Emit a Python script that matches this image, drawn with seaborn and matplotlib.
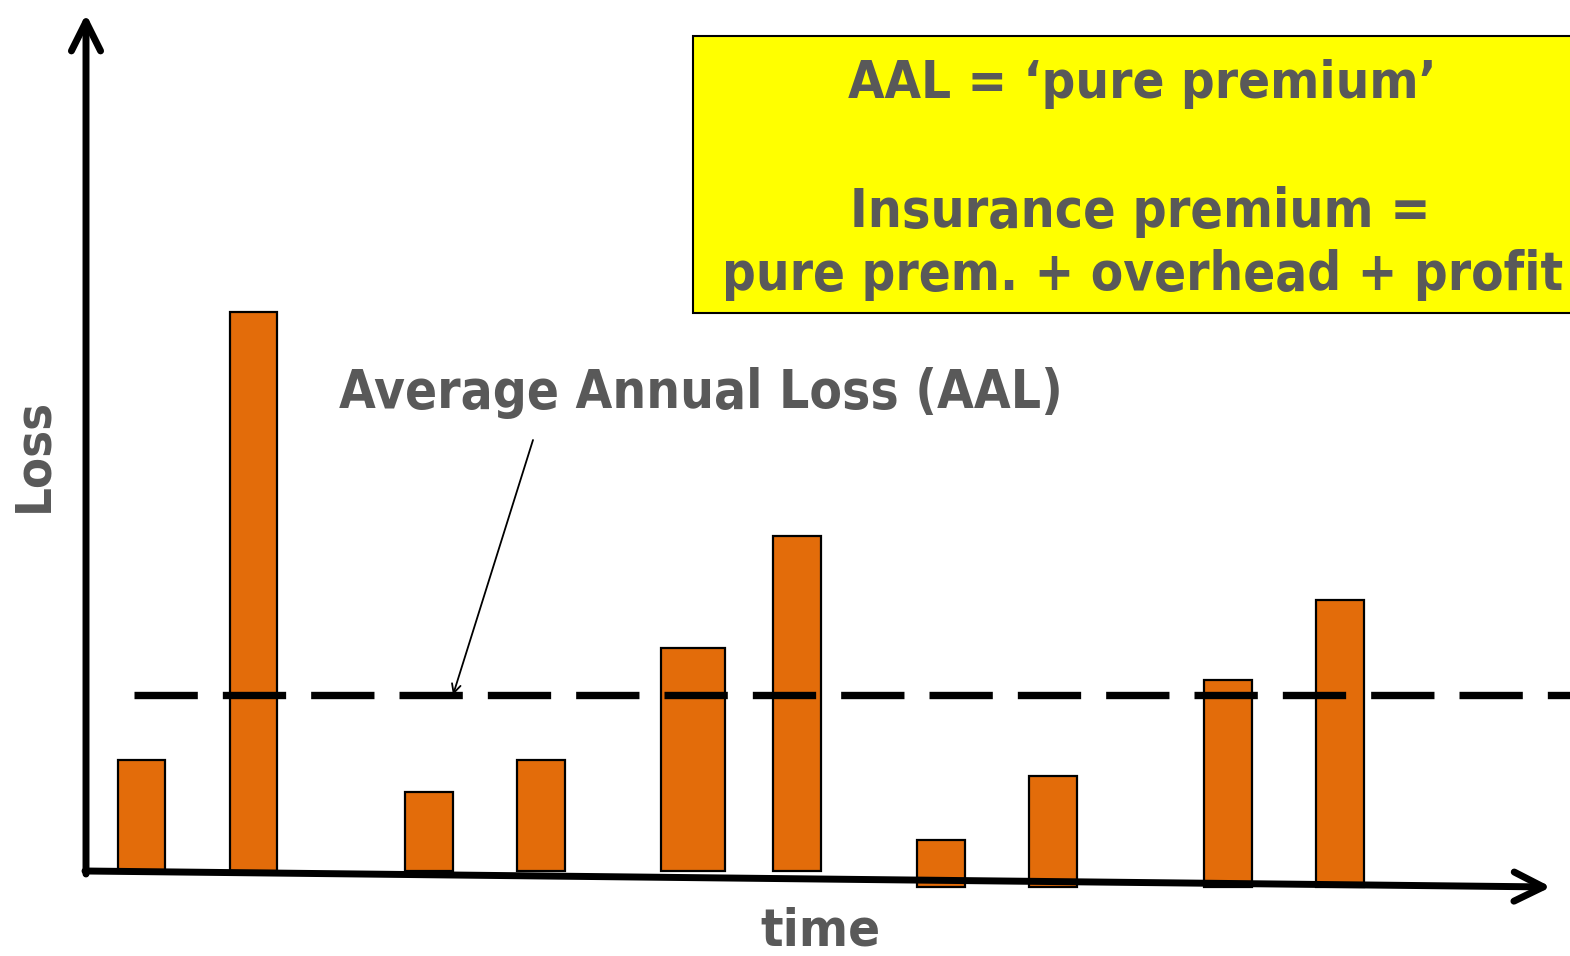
import matplotlib
matplotlib.use("Agg")
import matplotlib.pyplot as plt
from matplotlib import font_manager as fm
from matplotlib.patches import Rectangle, ArrowStyle, FancyArrowPatch
import seaborn as sns

# ---- data -------------------------------------------------------------
event_time = [55.5, 167.5, 343, 455, 607, 711, 855, 967, 1142, 1254]
event_span = [47, 47, 48, 48, 64, 48, 48, 48, 48, 48]
event_loss = [111, 559, 79, 111, 223, 335, 47, 111, 207, 287]
event_base = [0, 0, 0, 0, 0, 0, -16, -16, -16, -16]
aal_value = 176

title_aal = "Average Annual Loss (AAL)"
box_lines = ["AAL = \u2018pure premium\u2019",
             "Insurance premium =",
             "pure prem. + overhead + profit"]
y_label = "Loss"
x_label = "time"

BAR_COLOR = "#E36C0A"
TEXT_COLOR = "#595959"
BOX_COLOR = "#FFFF00"

sns.set_theme(style="white")
plt.rcParams["font.family"] = ["DejaVu Sans"]

W, H = 1570, 956
fig = plt.figure(figsize=(W / 100, H / 100), dpi=100)
fig.patch.set_facecolor("white")


def pick_font(cands):
    for fam, stretch, tag in cands:
        fp = fm.FontProperties(family=fam, weight="bold", stretch=stretch)
        try:
            path = fm.findfont(fp, fallback_to_default=False)
        except Exception:
            continue
        if tag and tag not in path:
            continue
        return fm.FontProperties(fname=path)
    return fm.FontProperties(family="DejaVu Sans", weight="bold")


narrow_font = pick_font([("DejaVu Sans", "condensed", "Condensed"),
                         ("Liberation Sans Narrow", "condensed", "Narrow"),
                         ("DejaVu Sans", "normal", None)])
label_font = pick_font([("DejaVu Sans", "condensed", "Condensed"),
                        ("DejaVu Sans", "normal", None)])

# plotting area: origin at the corner of the two arrows
x0, y0 = 86, 871
ax = fig.add_axes([x0 / W, (H - y0) / H, (W - x0) / W, y0 / H])
ax.set_xlim(0, W - x0)
ax.set_ylim(0, y0)
ax.axis("off")

ax.bar(event_time, event_loss, width=event_span, bottom=event_base,
       color=BAR_COLOR, edgecolor="black", linewidth=1.6, clip_on=False,
       zorder=2)

sns.lineplot(x=[48, W - x0 + 10], y=[aal_value, aal_value], ax=ax,
             color="black", linewidth=5.3, zorder=3)
aal_line = ax.lines[-1]
aal_line.set_dashes((8.6, 3.4))
aal_line.set_dash_capstyle("butt")
aal_line.set_clip_on(False)

# annotation arrow from the label down to the AAL line
ax.annotate("", xy=(367, aal_value), xytext=(447, 431),
            arrowprops=dict(arrowstyle="->", lw=1.3, color="black",
                            shrinkA=0, shrinkB=0, mutation_scale=16),
            zorder=4)

# axes drawn as arrows (figure pixels, origin bottom-left)
axis_style = ArrowStyle("->", head_length=21, head_width=10.5)
for start, end in [((86, H - 874), (86, H - 14)),
                   ((85, H - 871), (1551, H - 887))]:
    fig.add_artist(FancyArrowPatch(
        posA=start, posB=end, transform=None, arrowstyle=axis_style,
        mutation_scale=1, lw=5.0, color="black", capstyle="round",
        joinstyle="round", shrinkA=0, shrinkB=0, zorder=5))

# yellow box
fig.add_artist(Rectangle((693 / W, (H - 313) / H), (W + 10 - 693) / W,
                         277 / H, transform=fig.transFigure,
                         facecolor=BOX_COLOR, edgecolor="black", lw=1.5,
                         clip_on=False, zorder=1))

texts = []


def put(s, x, y, width, font, rot=0, ha="center", va="baseline"):
    t = fig.text(x / W, (H - y) / H, s, fontproperties=font, fontsize=30,
                 color=TEXT_COLOR, ha=ha, va=va, rotation=rot, zorder=6)
    texts.append((t, width, rot))
    return t


put(box_lines[0], 1142, 98, 587, narrow_font)
put(box_lines[1], 1140, 227, 580, narrow_font)
put(box_lines[2], 1143, 290, 840, narrow_font)
put(title_aal, 701, 408, 722, label_font)
put(y_label, 57, 455, 114, label_font, rot=90, ha="right", va="center")
put(x_label, 820, 945, 120, label_font)

renderer = fig.canvas.get_renderer()
for t, width, rot in texts:
    bb = t.get_window_extent(renderer)
    cur = bb.height if rot else bb.width
    t.set_fontsize(t.get_fontsize() * width / cur)

fig.savefig("out.png", dpi=100, facecolor="white")
